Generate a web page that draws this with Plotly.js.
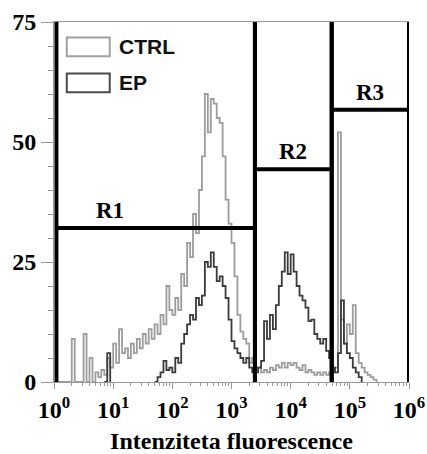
<!DOCTYPE html>
<html><head><meta charset="utf-8">
<script src="https://cdn.plot.ly/plotly-3.0.1.min.js"></script>
<style>html,body{margin:0;padding:0;background:#fff}#chart{width:427px;height:454px}</style>
</head><body><div id="chart"></div>
<script>
// histogram channels (log10 of fluorescence intensity)
const binExponents = [
  0.00,0.05,0.10,0.15,0.20,0.25,0.30,0.35,0.40,0.45,
  0.50,0.55,0.60,0.65,0.70,0.75,0.80,0.85,0.90,0.95,
  1.00,1.05,1.10,1.15,1.20,1.25,1.30,1.35,1.40,1.45,
  1.50,1.55,1.60,1.65,1.70,1.75,1.80,1.85,1.90,1.95,
  2.00,2.05,2.10,2.15,2.20,2.25,2.30,2.35,2.40,2.45,
  2.50,2.55,2.60,2.65,2.70,2.75,2.80,2.85,2.90,2.95,
  3.00,3.05,3.10,3.15,3.20,3.25,3.30,3.35,3.40,3.45,
  3.50,3.55,3.60,3.65,3.70,3.75,3.80,3.85,3.90,3.95,
  4.00,4.05,4.10,4.15,4.20,4.25,4.30,4.35,4.40,4.45,
  4.50,4.55,4.60,4.65,4.70,4.75,4.80,4.85,4.90,4.95,
  5.00,5.05,5.10,5.15,5.20,5.25,5.30,5.35,5.40,5.45
];
const ctrlCounts = [
  0,0,0,0,0,0,9,0,0,0,
  10,0,5,0,2,1,2.5,1.5,5,3,
  8,4,11,6,7,5,8,6,9,7,
  10,8,11,9,12,10,14,12,20,15,
  14,17.5,15,22.5,20,29,26,35,31,40,
  47,60,52,59,58,55,54,47,38,33,
  29,22,14,10.5,9,8,4,5,3,3,
  2,2.5,2,3,2.5,3.5,3,4,3,4,
  3.5,4,3,2.5,3.5,2,2.5,2,1.5,2,
  1.5,2,1.5,2,2,3,52,13,8,12,
  10,16,6,4,3,2,1.5,1,0.5,0
];
const epCounts = [
  null,null,null,null,null,null,null,null,null,null,
  null,null,null,null,null,null,null,0,6,0,
  null,null,null,null,null,null,null,null,null,null,
  null,null,null,null,0,1,2,4.4,2.5,3,
  2,5,4,8,10,12,14,13,17.5,16,
  18,25,24,27,24,21,22,20,17.5,13,
  8.5,7,6,5,4,5,3,2,2,3,
  4.4,12.7,9,14,11,16,20,23,27,22.5,
  26.6,23,20,18,17,15.5,12.7,13,10,9,
  8,9,6.5,5,3,2,6,17,8,6,
  5,3,2,1,0,null,null,null,null,null
];
const seriesNames = ['CTRL', 'EP'];
const seriesColors = ['#9c9c9c', '#3a3a3a'];
const regionNames = ['R1', 'R2', 'R3'];
const regionStart = [1.1, 2490, 49400];
const regionEnd = [2490, 49400, 1000000];
const regionHeight = [32.1, 44.3, 56.7];
const xTickVals = [1, 10, 100, 1000, 10000, 100000, 1000000];
const xTickText = ['10<sup>0</sup>','10<sup>1</sup>','10<sup>2</sup>','10<sup>3</sup>','10<sup>4</sup>','10<sup>5</sup>','10<sup>6</sup>'];
const yTickVals = [0, 25, 50, 75];
const xTitle = 'Intenziteta fluorescence';

const SERIF = 'Liberation Serif, Times New Roman, DejaVu Serif, serif';
const SANS = 'Liberation Sans, Arial, sans-serif';

const xs = binExponents.map(e => Math.pow(10, e));
const traces = [ctrlCounts, epCounts].map((vals, i) => ({
  type: 'scatter', mode: 'lines', x: xs, y: vals, name: seriesNames[i], connectgaps: false,
  line: {color: seriesColors[i], width: 1.8, shape: 'hv'}, showlegend: false, hoverinfo: 'skip'
}));

const minorX = [];
for (let d = 0; d < 6; d++) for (let k = 2; k <= 9; k++) minorX.push(k * Math.pow(10, d));

const shapes = [];
const annotations = [];
regionNames.forEach((nm, i) => {
  const ln = {color: '#000', width: 4};
  shapes.push({type: 'line', xref: 'x', yref: 'y', x0: regionStart[i], x1: regionStart[i], y0: 0, y1: 75, line: ln, layer: 'above'});
  shapes.push({type: 'line', xref: 'x', yref: 'y', x0: regionEnd[i], x1: regionEnd[i], y0: 0, y1: 75, line: ln, layer: 'above'});
  shapes.push({type: 'line', xref: 'x', yref: 'y', x0: regionStart[i], x1: regionEnd[i], y0: regionHeight[i], y1: regionHeight[i], line: ln, layer: 'above'});
  const lx = i === 0 ? 0.94 : (Math.log10(regionStart[i]) + Math.log10(regionEnd[i])) / 2;
  annotations.push({xref: 'x', yref: 'y', x: lx, y: regionHeight[i], yshift: 3, text: '<b>' + nm + '</b>', showarrow: false,
    xanchor: 'center', yanchor: 'bottom', font: {family: SERIF, size: 23, color: '#000'}});
});
// legend boxes
const legY = [[0.905, 0.957], [0.805, 0.857]];
seriesNames.forEach((nm, i) => {
  shapes.push({type: 'rect', xref: 'paper', yref: 'paper', x0: 0.036, x1: 0.157, y0: legY[i][0], y1: legY[i][1],
    line: {color: i === 0 ? '#a0a0a0' : '#4a4a4a', width: 2}, fillcolor: 'rgba(0,0,0,0)'});
  annotations.push({xref: 'paper', yref: 'paper', x: 0.178, y: (legY[i][0] + legY[i][1]) / 2, text: '<b>' + nm + '</b>', showarrow: false,
    xanchor: 'left', yanchor: 'middle', font: {family: SANS, size: 21, color: '#111'}});
});

const layout = {
  width: 427, height: 454,
  margin: {l: 54, r: 18, t: 22, b: 72},
  paper_bgcolor: '#fff', plot_bgcolor: '#fff',
  showlegend: false,
  xaxis: {
    type: 'log', range: [0, 6], tickmode: 'array', tickvals: xTickVals, ticktext: xTickText.map(t => '<b>' + t + '</b>'),
    showgrid: false, zeroline: false, showline: true, linecolor: '#9a9a9a', linewidth: 1, mirror: true,
    ticks: 'outside', ticklen: 6, tickcolor: '#9a9a9a', tickwidth: 1,
    minor: {tickmode: 'array', tickvals: minorX, ticks: 'outside', ticklen: 3, tickcolor: '#9a9a9a', showgrid: false},
    tickfont: {family: SERIF, size: 24, color: '#000'},
    title: {text: '<b>' + xTitle + '</b>', font: {family: SERIF, size: 24, color: '#000'}, standoff: 16}
  },
  yaxis: {
    range: [0, 75], tickmode: 'array', tickvals: yTickVals, ticktext: yTickVals.map(v => '<b>' + v + '</b>'),
    showgrid: false, zeroline: false, showline: true, linecolor: '#9a9a9a', linewidth: 1,
    ticks: 'outside', ticklen: 12, tickcolor: '#9a9a9a', tickwidth: 1,
    minor: {dtick: 5, ticks: 'outside', ticklen: 5, tickcolor: '#9a9a9a', showgrid: false},
    tickfont: {family: SERIF, size: 24, color: '#000'}
  },
  shapes: shapes,
  annotations: annotations
};
Plotly.newPlot('chart', traces, layout, {staticPlot: true, displayModeBar: false});
</script>
</body></html>
